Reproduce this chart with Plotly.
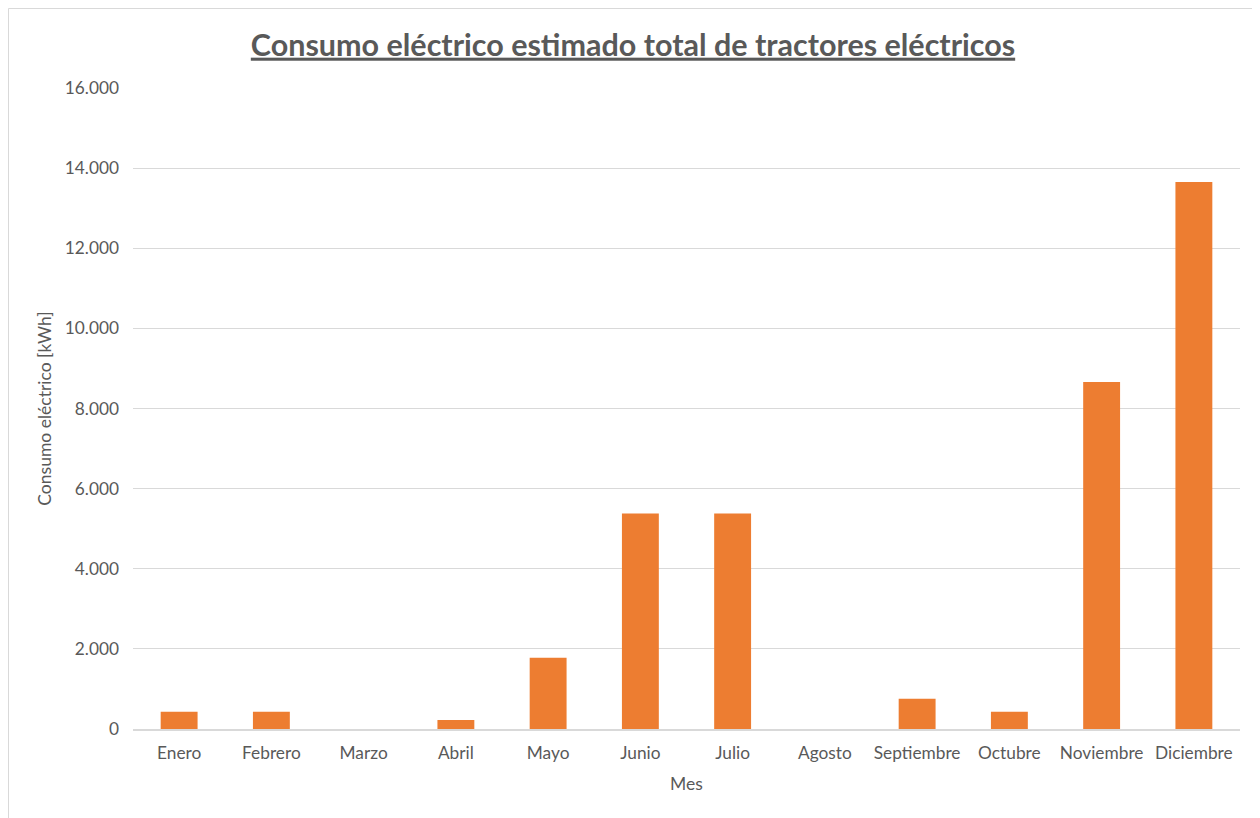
import plotly.graph_objects as go

meses = ["Enero", "Febrero", "Marzo", "Abril", "Mayo", "Junio", "Julio",
         "Agosto", "Septiembre", "Octubre", "Noviembre", "Diciembre"]
consumo_kwh = [432, 432, 0, 225, 1780, 5376, 5376, 0, 757, 432, 8661, 13656]
y_ticks = [0, 2000, 4000, 6000, 8000, 10000, 12000, 14000, 16000]

font_family = "Lato, 'Open Sans', sans-serif"
gray = "#595959"

W, H = 1252, 810
L, R, T, B = 125, 20, 80, 89
pw, ph = W - L - R, H - T - B

fig = go.Figure(go.Bar(
    x=meses, y=consumo_kwh,
    marker=dict(color="#ED7D31", line=dict(width=0)),
    hoverinfo="x+y",
))

# chart-area border (top, left, right)
x0 = (-L + 0.5) / pw
x1 = 1 + (R - 1.5) / pw
y1 = 1 + (T - 0.5) / ph
y0 = -(B + 5) / ph
border_path = f"M {x0} {y0} L {x0} {y1} L {x1} {y1} L {x1} {y0}"

fig.update_layout(
    width=W, height=H,
    paper_bgcolor="white", plot_bgcolor="white",
    separators=",.",
    margin=dict(l=L, r=R, t=T, b=B),
    bargap=0.6,
    showlegend=False,
    font=dict(family=font_family, color=gray, size=17),
    title=dict(
        text="<b><u>Consumo eléctrico estimado total de tractores eléctricos</u></b>",
        x=625 / W, xanchor="center", xref="container",
        y=1 - 37 / H, yref="container", yanchor="middle",
        font=dict(family=font_family, size=30.5, color=gray),
    ),
    xaxis=dict(
        title=dict(text="Mes", font=dict(size=17.5, color=gray), standoff=16),
        showgrid=False, showline=True, linecolor="#D9D9D9", linewidth=1.5,
        ticks="", ticklabelstandoff=7, tickfont=dict(size=17.3, color=gray),
    ),
    yaxis=dict(
        title=dict(text="Consumo eléctrico [kWh]", font=dict(size=17.5, color=gray), standoff=8),
        range=[0, 16000], tickvals=y_ticks, tickformat=",d",
        showgrid=True, gridcolor="#D9D9D9", gridwidth=1,
        zeroline=False, showline=False, ticks="", ticklabelstandoff=13,
        tickfont=dict(size=17.3, color=gray),
    ),
    shapes=[dict(type="path", xref="paper", yref="paper", path=border_path,
                 line=dict(color="#D9D9D9", width=1), layer="below")],
)

fig.write_html("out.html")
